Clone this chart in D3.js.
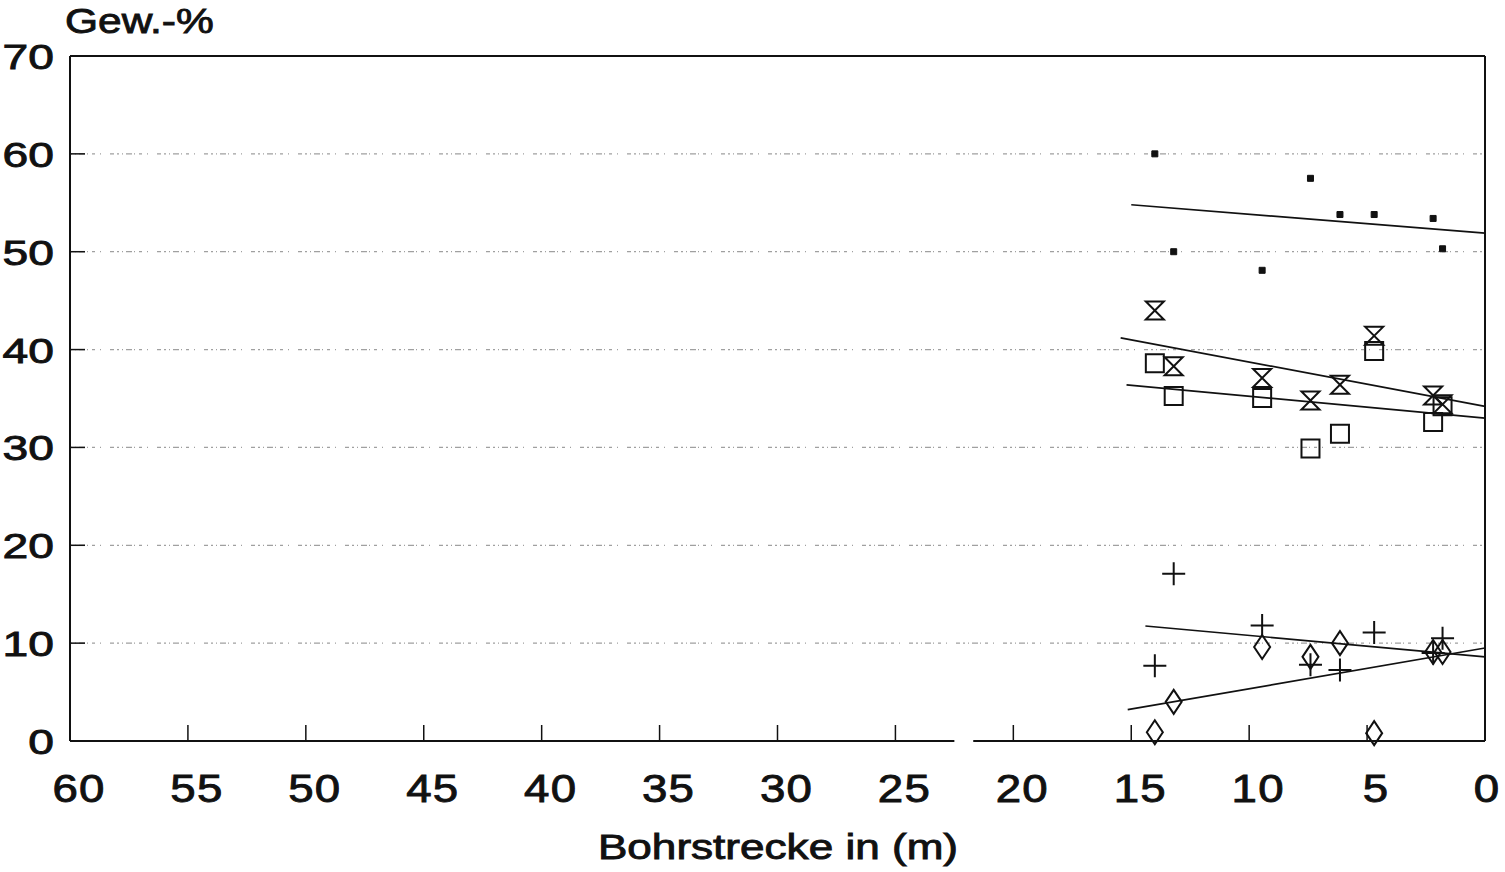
<!DOCTYPE html>
<html>
<head>
<meta charset="utf-8">
<script src="https://cdn.jsdelivr.net/npm/d3@7"></script>
<style>
  body { margin: 0; background: #fff; }
  text { font-family: "Liberation Sans", Arial, sans-serif; fill: #111; stroke: #111; stroke-width: 0.9; }
</style>
</head>
<body>
<div id="chart"></div>
<script>
// depth positions of the samples (m)
var depth = [14.0, 13.2, 9.45, 7.4, 6.15, 4.7, 2.2, 1.8];

var filledSq = [60.0, 50.0, 48.1, 57.5, 53.8, 53.8, 53.4, 50.3];
var hourglass = [44.0, 38.3, 37.1, 34.8, 36.4, 41.4, 35.3, 34.4];
var openSq = [38.6, 35.25, 35.05, 29.9, 31.4, 39.85, 32.6, 34.2];
var plus = [7.7, 17.1, 11.8, 7.8, 7.25, 11.1, 9.0, 10.5];
var diamond = [0.9, 4.0, 9.6, 8.6, 10.0, 0.8, 9.1, 9.1];

// regression lines: [x1, x2], [y1, y2]
var trendFilledX = [15.0, 0], trendFilledY = [54.8, 51.9];
var trendHourX = [15.45, 0], trendHourY = [41.2, 34.2];
var trendOpenX = [15.2, 0], trendOpenY = [36.4, 33.0];
var trendPlusX = [14.4, 0], trendPlusY = [11.75, 8.6];
var trendDiaX = [15.15, 0], trendDiaY = [3.2, 9.5];

var xTicks = [60, 55, 50, 45, 40, 35, 30, 25, 20, 15, 10, 5, 0];
var yTicks = [0, 10, 20, 30, 40, 50, 60, 70];

var width = 1505, height = 872;
var mLeft = 70, mRight = 1485, mTop = 56, mBottom = 741;

var svg = d3.select("#chart").append("svg")
  .attr("width", width)
  .attr("height", height);

var x = d3.scaleLinear().domain([60, 0]).range([mLeft, mRight]);
var y = d3.scaleLinear().domain([0, 70]).range([mBottom, mTop]);

var inner = yTicks.filter(function(d) { return d > 0 && d < 70; });

// grid lines (dotted)
svg.append("g").selectAll("line")
  .data(inner)
  .enter().append("line")
  .attr("x1", mLeft).attr("x2", mRight)
  .attr("y1", function(d) { return y(d); })
  .attr("y2", function(d) { return y(d); })
  .attr("stroke", "#a0a0a0")
  .attr("stroke-width", 1.2)
  .attr("stroke-dasharray", "2,3,1,3,6,2,1,4,3,5,1,9,4,3");

// y ticks inside
svg.append("g").selectAll("line")
  .data(inner)
  .enter().append("line")
  .attr("x1", mLeft).attr("x2", mLeft + 15)
  .attr("y1", function(d) { return y(d); })
  .attr("y2", function(d) { return y(d); })
  .attr("stroke", "#111").attr("stroke-width", 1.5);

// frame
var frame = svg.append("g").attr("stroke", "#111").attr("stroke-width", 2).attr("fill", "none");
frame.append("line").attr("x1", mLeft).attr("x2", mLeft).attr("y1", mTop).attr("y2", mBottom);
frame.append("line").attr("x1", mLeft).attr("x2", mRight).attr("y1", mTop).attr("y2", mTop);
frame.append("line").attr("x1", mRight).attr("x2", mRight).attr("y1", mTop).attr("y2", mBottom);
// bottom axis with small break
frame.append("line").attr("x1", mLeft).attr("x2", x(22.5)).attr("y1", mBottom).attr("y2", mBottom);
frame.append("line").attr("x1", x(21.7)).attr("x2", mRight).attr("y1", mBottom).attr("y2", mBottom);

// x ticks inside
svg.append("g").selectAll("line")
  .data(xTicks.filter(function(d) { return d > 0 && d < 60; }))
  .enter().append("line")
  .attr("x1", function(d) { return x(d); })
  .attr("x2", function(d) { return x(d); })
  .attr("y1", mBottom).attr("y2", mBottom - 16)
  .attr("stroke", "#111").attr("stroke-width", 1.5);

// tick labels (stretched wide like the original)
svg.append("g").selectAll("g")
  .data(xTicks)
  .enter().append("g")
  .attr("transform", function(d) { return "translate(" + Math.min(x(d) + 9, width - 18) + "," + 802 + ") scale(1.2,1)"; })
  .append("text")
  .attr("text-anchor", "middle")
  .attr("font-size", 38)
  .attr("letter-spacing", 1)
  .text(function(d) { return d; });

svg.append("g").selectAll("g")
  .data(yTicks)
  .enter().append("g")
  .attr("transform", function(d) { return "translate(" + 54 + "," + (y(d) + 13) + ") scale(1.32,1)"; })
  .append("text")
  .attr("text-anchor", "end")
  .attr("font-size", 35)
  .text(function(d) { return d; });

svg.append("g")
  .attr("transform", "translate(65,33) scale(1.18,1)")
  .append("text")
  .attr("font-size", 36)
  .text("Gew.-%");

svg.append("g")
  .attr("transform", "translate(778,859) scale(1.26,1)")
  .append("text")
  .attr("text-anchor", "middle")
  .attr("font-size", 35)
  .text("Bohrstrecke in (m)");

// trend lines
var line = d3.line().x(function(d) { return x(d[0]); }).y(function(d) { return y(d[1]); });
var trends = [
  [trendFilledX, trendFilledY],
  [trendHourX, trendHourY],
  [trendOpenX, trendOpenY],
  [trendPlusX, trendPlusY],
  [trendDiaX, trendDiaY]
];
svg.append("g").selectAll("path")
  .data(trends)
  .enter().append("path")
  .attr("d", function(t) { return line(d3.zip(t[0], t[1])); })
  .attr("fill", "none")
  .attr("stroke", "#111")
  .attr("stroke-width", 1.7);

// custom symbols
var symHourglass = { draw: function(c, size) {
  var r = Math.sqrt(size) / 2;
  c.moveTo(-r, -r); c.lineTo(r, -r); c.lineTo(-r, r); c.lineTo(r, r); c.closePath();
}};
var symPlus = { draw: function(c, size) {
  var r = Math.sqrt(size) / 2;
  c.moveTo(-r, 0); c.lineTo(r, 0); c.moveTo(0, -r); c.lineTo(0, r);
}};
var symDiamond = { draw: function(c, size) {
  var r = Math.sqrt(size) / 2;
  c.moveTo(0, -r * 1.5); c.lineTo(r, 0); c.lineTo(0, r * 1.5); c.lineTo(-r, 0); c.closePath();
}};

function addSeries(values, type, size, fill, sw) {
  svg.append("g").selectAll("path")
    .data(d3.zip(depth, values))
    .enter().append("path")
    .attr("transform", function(d) { return "translate(" + x(d[0]) + "," + y(d[1]) + ")"; })
    .attr("d", d3.symbol().type(type).size(size))
    .attr("fill", fill)
    .attr("stroke", "#111")
    .attr("stroke-width", sw);
}

addSeries(openSq, d3.symbolSquare, 18 * 18, "none", 2);
addSeries(hourglass, symHourglass, 18 * 18, "none", 2);
addSeries(diamond, symDiamond, 16 * 16, "none", 2);
addSeries(plus, symPlus, 23 * 23, "none", 2);
addSeries(filledSq, d3.symbolSquare, 6 * 6, "#111", 1);
</script>
</body>
</html>
